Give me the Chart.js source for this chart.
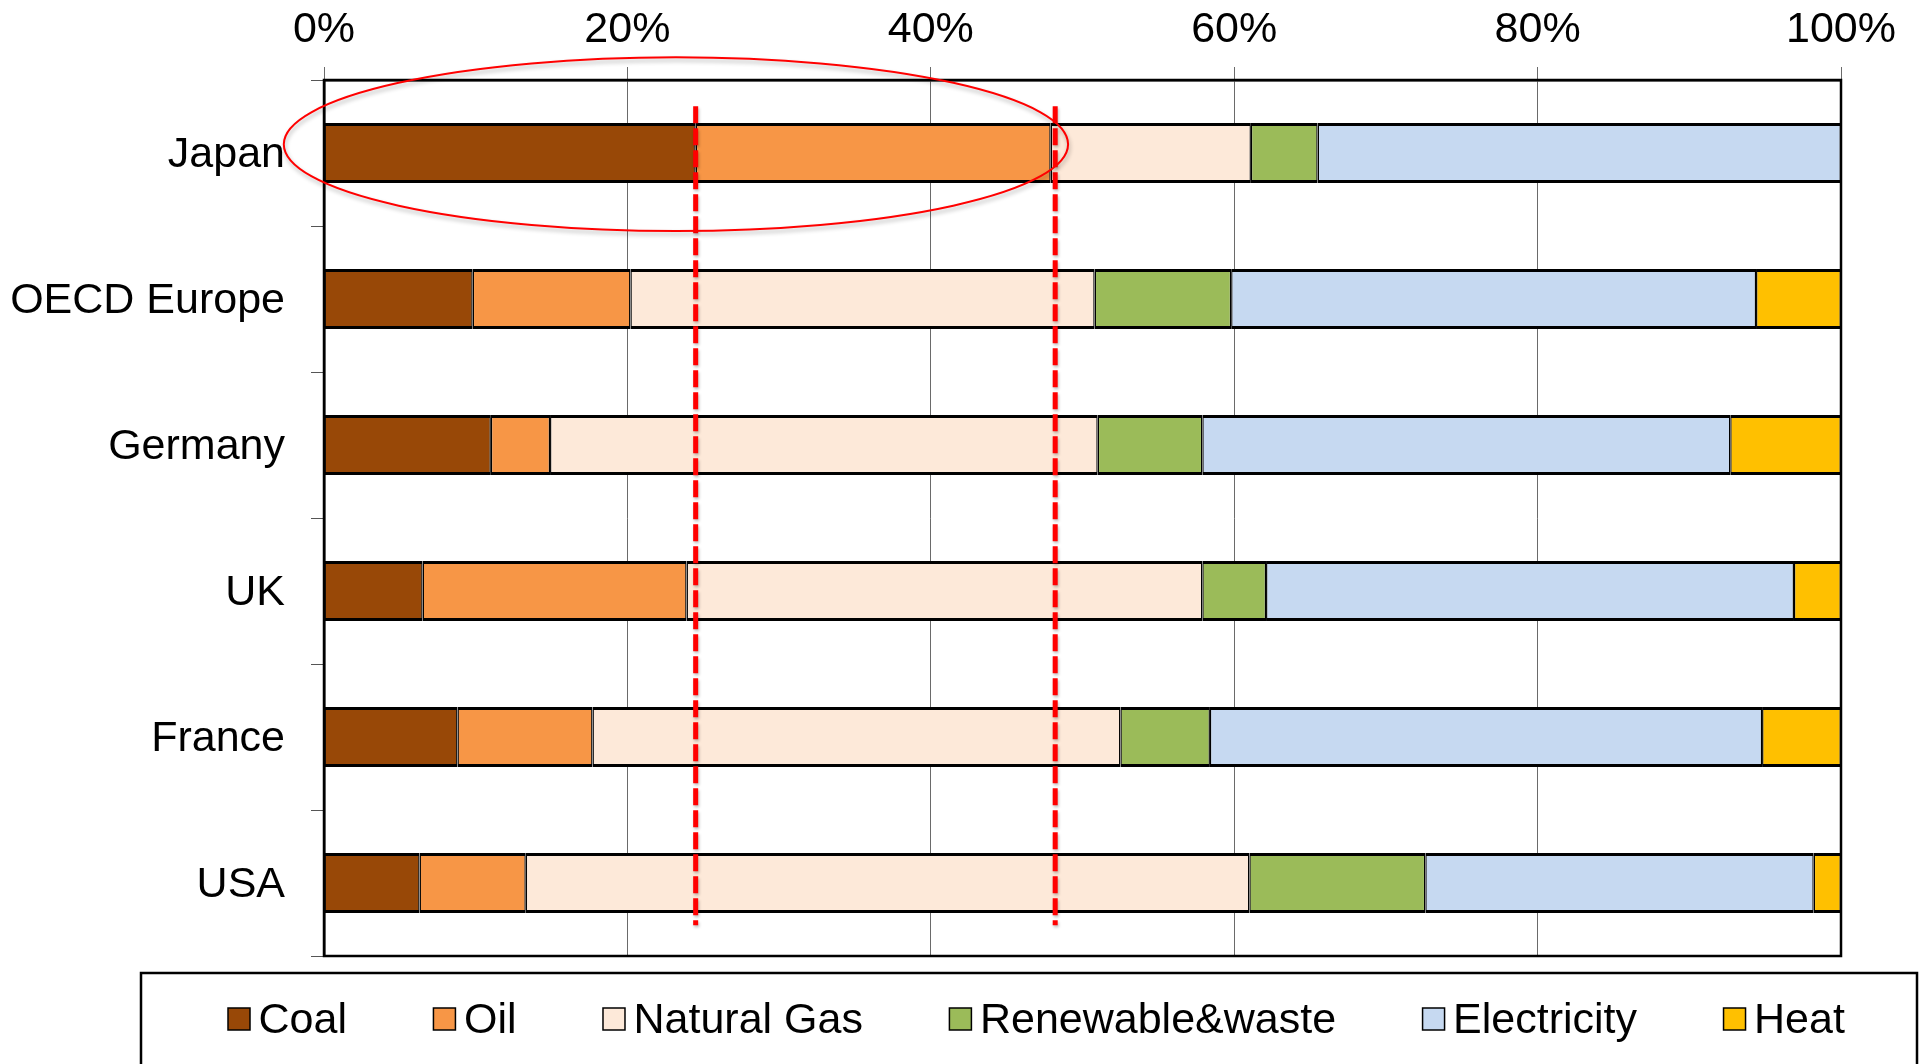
<!DOCTYPE html>
<html>
<head>
<meta charset="utf-8">
<title>Final energy consumption by source</title>
<script src="https://cdn.jsdelivr.net/npm/chart.js@4.4.1/dist/chart.umd.min.js"></script>
<style>
  html, body { margin: 0; padding: 0; background: #fff; }
  #wrap { width: 1919px; height: 1064px; position: relative; }
</style>
</head>
<body>
<div id="wrap"><canvas id="chart"></canvas></div>
<script>
// Share of final energy consumption by source (%)
const categories = ['Japan', 'OECD Europe', 'Germany', 'UK', 'France', 'USA'];
const coal        = [24.5,  9.8, 11.0,  6.5,  8.8,  6.3];
const oil         = [23.4, 10.4,  3.9, 17.4,  8.9,  7.0];
const naturalGas  = [13.2, 30.6, 36.1, 34.0, 34.8, 47.7];
const renewable   = [ 4.4,  9.0,  6.9,  4.2,  5.9, 11.6];
const electricity = [34.5, 34.6, 34.8, 34.8, 36.4, 25.6];
const heat        = [ 0.0,  5.6,  7.3,  3.1,  5.2,  1.8];

const seriesNames = ['Coal', 'Oil', 'Natural Gas', 'Renewable&waste', 'Electricity', 'Heat'];
const xTicks = [0, 20, 40, 60, 80, 100];

// Reference levels marked with dashed red lines (%)
const markerLines = [24.5, 48.2];

const FONT = '"Liberation Sans", Arial, sans-serif';
const FONT_SIZE = 43;
const colors = ['#984807', '#F79646', '#FDE9D9', '#9BBB59', '#C6D9F1', '#FFC000'];
const seriesData = [coal, oil, naturalGas, renewable, electricity, heat];

const datasets = seriesData.map((d, i) => ({
  label: seriesNames[i],
  data: d,
  backgroundColor: colors[i],
  borderColor: '#000',
  borderWidth: { top: 3, bottom: 3, left: 1.4, right: 1.4 },
  borderSkipped: false,
  inflateAmount: 0,
  categoryPercentage: 1.0,
  barPercentage: 0.41
}));

// Highlight geometry in data units (x in %, y in category index)
const highlight = {
  dashSpan: [-0.32, 5.29],
  ellipse: { cx: 23.2, cy: -0.06, rx: 25.85, ry: 0.595 }
};

const overlay = {
  id: 'overlay',
  afterDatasetsDraw(chart) {
    const { ctx, chartArea: a, scales: { x, y } } = chart;

    // plot frame
    ctx.save();
    ctx.strokeStyle = '#000';
    ctx.lineWidth = 2.5;
    ctx.strokeRect(a.left, a.top, a.right - a.left, a.bottom - a.top);
    ctx.restore();

    // dashed reference lines
    ctx.save();
    ctx.strokeStyle = '#FF0000';
    ctx.lineWidth = 5;
    ctx.setLineDash([17, 5]);
    ctx.shadowColor = 'rgba(0,0,0,0.25)';
    ctx.shadowBlur = 3;
    ctx.shadowOffsetX = 1;
    ctx.shadowOffsetY = 2;
    const y0 = y.getPixelForValue(highlight.dashSpan[0]);
    const y1 = y.getPixelForValue(highlight.dashSpan[1]);
    markerLines.forEach(v => {
      const px = x.getPixelForValue(v);
      ctx.beginPath();
      ctx.moveTo(px, y0);
      ctx.lineTo(px, y1);
      ctx.stroke();
    });
    ctx.restore();

    // ellipse around Japan's coal and oil shares
    const e = highlight.ellipse;
    const cx = x.getPixelForValue(e.cx);
    const cy = y.getPixelForValue(e.cy);
    const rx = x.getPixelForValue(e.cx + e.rx) - cx;
    const ry = y.getPixelForValue(e.cy + e.ry) - cy;
    ctx.save();
    ctx.strokeStyle = '#FF0000';
    ctx.lineWidth = 2;
    ctx.shadowColor = 'rgba(0,0,0,0.3)';
    ctx.shadowBlur = 4;
    ctx.shadowOffsetX = 1;
    ctx.shadowOffsetY = 3;
    ctx.beginPath();
    ctx.ellipse(cx, cy, rx, ry, 0, 0, Math.PI * 2);
    ctx.stroke();
    ctx.restore();
  },
  afterDraw(chart) {
    // legend box along the bottom
    const { ctx } = chart;
    const boxLeft = 141, boxRight = 1917, boxTop = 973, boxBottom = chart.height + 5;
    ctx.save();
    ctx.strokeStyle = '#000';
    ctx.lineWidth = 2.5;
    ctx.strokeRect(boxLeft, boxTop, boxRight - boxLeft, boxBottom - boxTop);

    ctx.font = FONT_SIZE + 'px ' + FONT;
    ctx.textBaseline = 'alphabetic';
    ctx.textAlign = 'left';
    const gap = 86.5, swatch = 22, textGap = 8.5, baseline = 1033;
    let xPos = boxLeft + 87;
    chart.data.datasets.forEach(ds => {
      ctx.fillStyle = ds.backgroundColor;
      ctx.fillRect(xPos, baseline - 25, swatch, swatch);
      ctx.lineWidth = 1.5;
      ctx.strokeStyle = '#000';
      ctx.strokeRect(xPos, baseline - 25, swatch, swatch);
      ctx.fillStyle = '#000';
      const tx = xPos + swatch + textGap;
      ctx.fillText(ds.label, tx, baseline);
      xPos = tx + ctx.measureText(ds.label).width + gap;
    });
    ctx.restore();
  }
};

new Chart(document.getElementById('chart'), {
  type: 'bar',
  data: { labels: categories, datasets },
  options: {
    indexAxis: 'y',
    responsive: true,
    maintainAspectRatio: false,
    animation: false,
    layout: { padding: { left: 0, top: 0, right: 78, bottom: 108 } },
    plugins: {
      legend: { display: false },
      tooltip: { enabled: false }
    },
    scales: {
      x: {
        position: 'top',
        stacked: true,
        min: 0,
        max: 100,
        afterBuildTicks(scale) {
          scale.ticks = xTicks.map(v => ({ value: v }));
        },
        afterFit(scale) { scale.height = 80; },
        ticks: {
          callback: v => v + '%',
          color: '#000',
          padding: 11,
          maxRotation: 0,
          font: { family: FONT, size: FONT_SIZE }
        },
        grid: {
          color: '#6a6a6a',
          lineWidth: 1,
          tickLength: 13,
          drawOnChartArea: true
        },
        border: { display: true, color: '#000', width: 2.5 }
      },
      y: {
        stacked: true,
        afterFit(scale) { scale.width = 324; },
        ticks: {
          color: '#000',
          padding: 26,
          labelOffset: 2,
          font: { family: FONT, size: FONT_SIZE }
        },
        grid: {
          offset: true,
          color: '#555',
          lineWidth: 1,
          tickLength: 13,
          drawOnChartArea: false
        },
        border: { display: true, color: '#000', width: 2.5 }
      }
    }
  },
  plugins: [overlay]
});
</script>
</body>
</html>
